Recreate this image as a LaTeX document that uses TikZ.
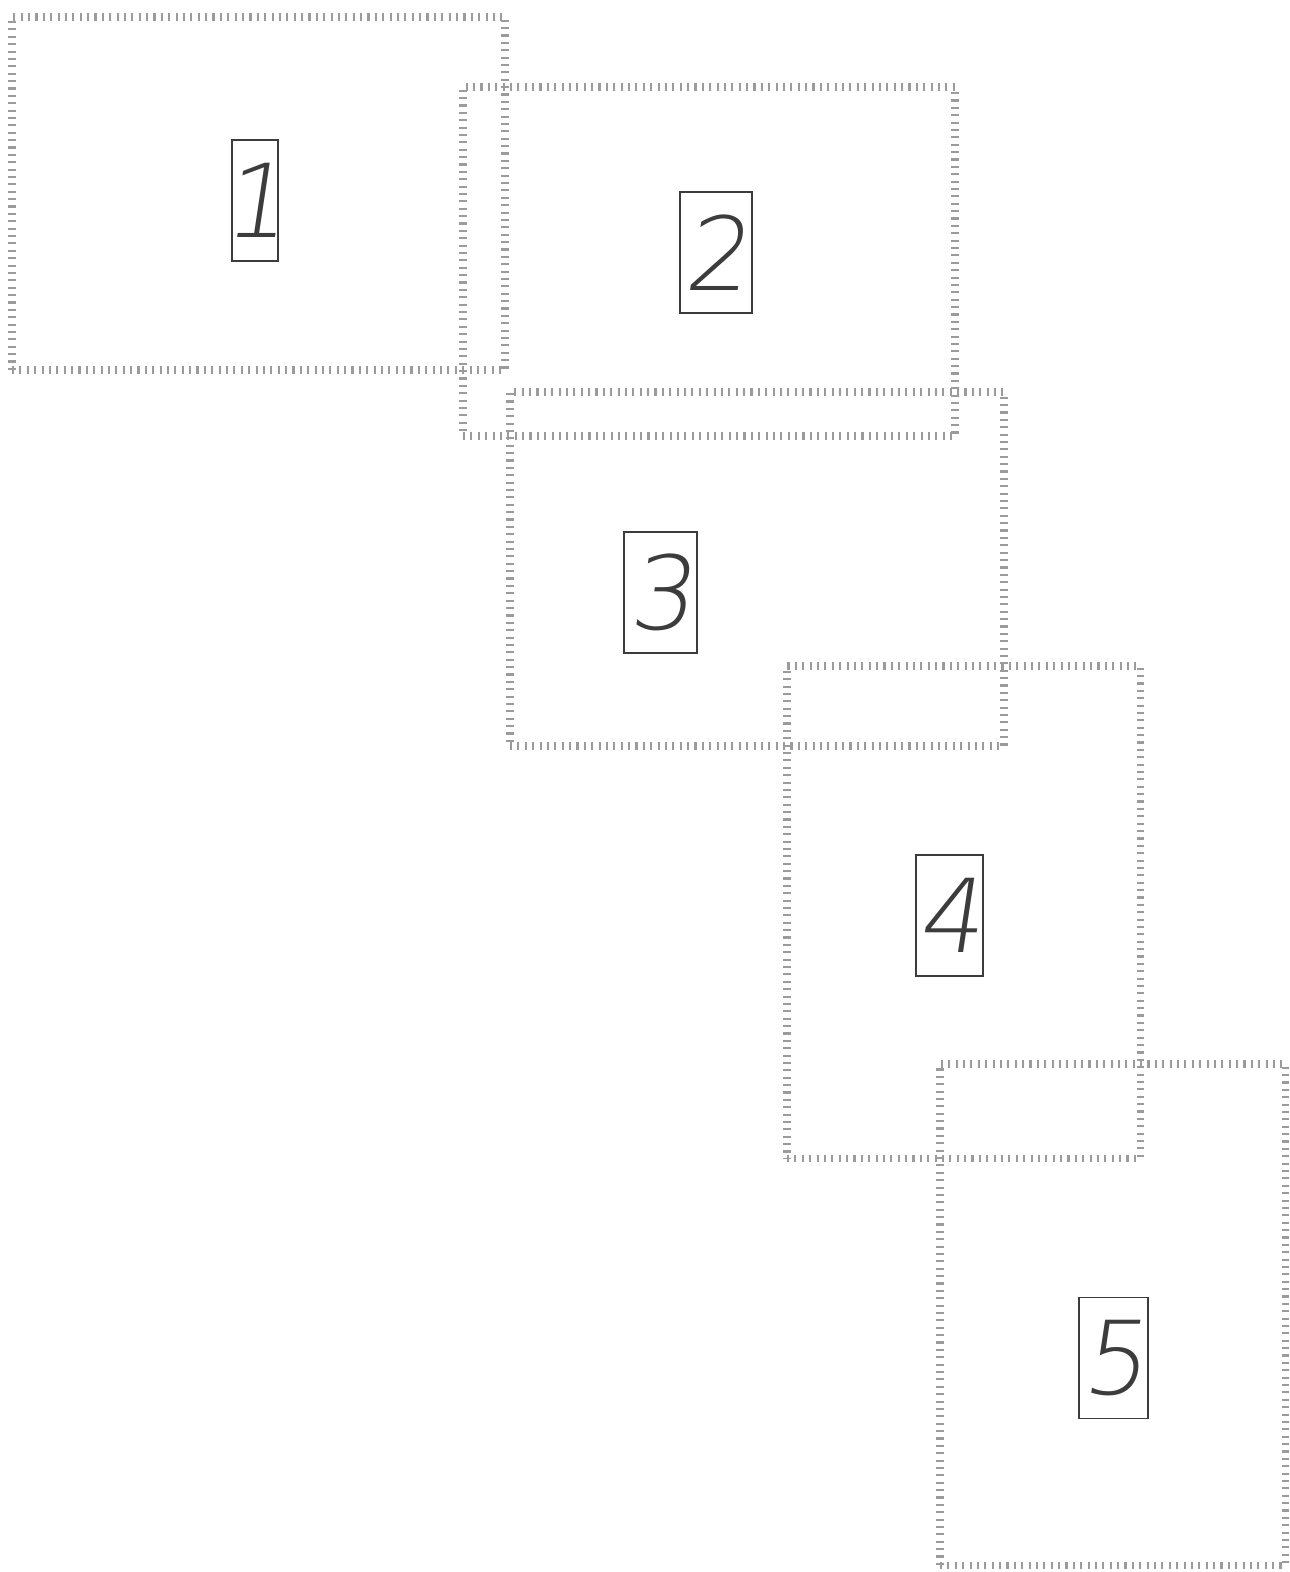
\documentclass[tikz,border=0pt]{standalone}
\usepackage{fontspec}
\newfontfamily\digitfont{DejaVu Sans ExtraLight}[FakeSlant=0.15]
\usetikzlibrary{positioning}
\definecolor{hatchgray}{RGB}{155,155,155}
\definecolor{labelgray}{RGB}{60,60,60}

\tikzset{
    zone/.style={draw=hatchgray, line width=4pt, dash pattern=on 1.2pt off 3.0pt,
        inner sep=0pt, minimum width=#1},
    tag/.style={draw=labelgray, line width=0.9pt, inner sep=0pt,
        font=\digitfont\fontsize{58}{58}\selectfont, text=labelgray}
}

\begin{document}
\begin{tikzpicture}[x=0.02cm, y=-0.02cm]
    \useasboundingbox (0,0) rectangle (1290,1572);

    % Hatched zones
    \foreach \n/\x/\y/\w/\h in {1/258.5/193.5/493/353, 2/709/261.5/492/349,
        3/757/569/494/354, 4/963.5/912/353/492, 5/1112.5/1314.5/345/501} {
        \node[zone=\w*0.02cm, minimum height=\h*0.02cm] (zone\n) at (\x,\y) {};
    }

    % Numbered tags
    \foreach \n/\x/\y/\w in {1/255/200.5/46, 2/716/252.5/72, 3/660.5/592.5/73,
        4/949.5/915.5/67, 5/1113.5/1358/69} {
        \node[tag, minimum width=\w*0.02cm, minimum height=121*0.02cm] (tag\n) at (\x,\y) {\makebox[0pt]{\n}};
    }

\end{tikzpicture}
\end{document}
